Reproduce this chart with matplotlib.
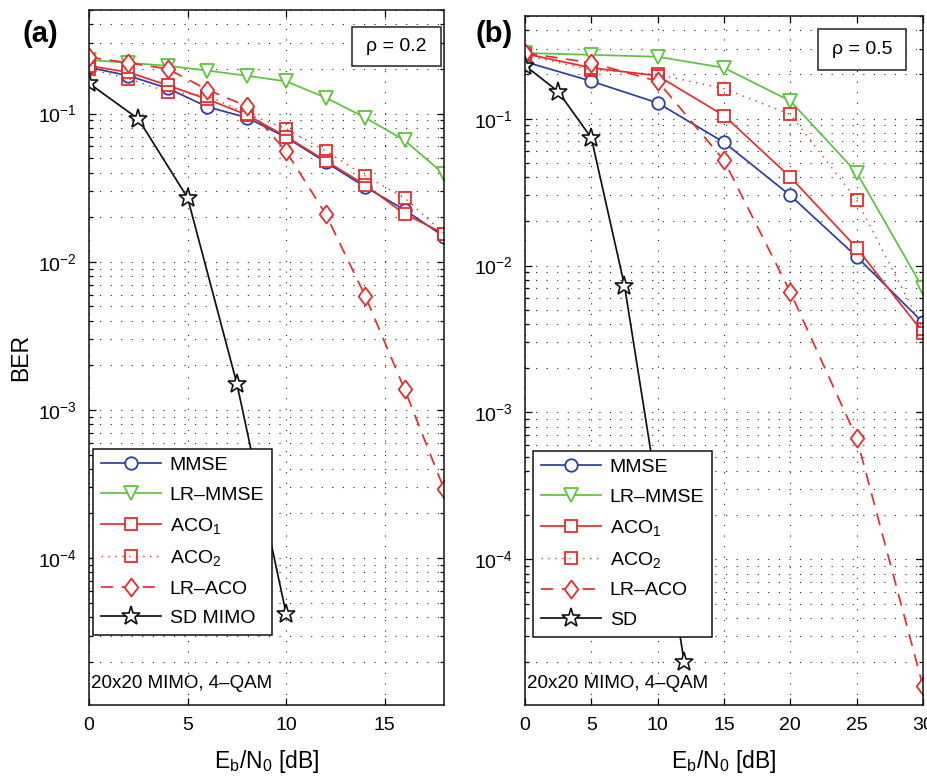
import matplotlib
matplotlib.use("Agg")
import matplotlib.pyplot as plt
from matplotlib.patches import Rectangle
from matplotlib.ticker import LogLocator, NullFormatter, MultipleLocator

plt.rcParams['font.family'] = ['Liberation Sans', 'DejaVu Sans']
plt.rcParams['mathtext.fontset'] = 'custom'
plt.rcParams['mathtext.rm'] = 'Liberation Sans'
plt.rcParams['mathtext.it'] = 'Liberation Sans'
plt.rcParams['mathtext.bf'] = 'Liberation Sans:bold'

# ---------------- data (panel a, rho = 0.2) ----------------
snr_a = [0, 2, 4, 6, 8, 10, 12, 14, 16, 18]
mmse_a = [0.205, 0.18, 0.148, 0.111, 0.094, 0.069, 0.047, 0.032, 0.0224, 0.0148]
lrmmse_a = [0.23, 0.22, 0.21, 0.195, 0.18, 0.165, 0.128, 0.094, 0.066, 0.039]
aco1_a = [0.21, 0.19, 0.155, 0.125, 0.098, 0.070, 0.048, 0.033, 0.021, 0.0155]
aco2_a = [0.20, 0.172, 0.14, 0.132, 0.10, 0.079, 0.056, 0.038, 0.027, 0.0155]
lraco_a = [0.24, 0.22, 0.20, 0.145, 0.112, 0.0555, 0.021, 0.0059, 0.00138, 0.000293]
snr_sd_a = [0, 2.5, 5, 7.5, 10]
sd_a = [0.16, 0.092, 0.027, 0.0015, 4.2e-5]

# ---------------- data (panel b, rho = 0.5) ----------------
snr_b = [0, 5, 10, 15, 20, 25, 30]
mmse_b = [0.244, 0.18, 0.128, 0.069, 0.030, 0.0115, 0.0041]
lrmmse_b = [0.28, 0.272, 0.264, 0.222, 0.132, 0.043, 0.0070]
aco1_b = [0.277, 0.222, 0.196, 0.105, 0.040, 0.0132, 0.0035]
aco2_b = [0.27, 0.215, 0.20, 0.16, 0.107, 0.028, 0.0037]
lraco_b = [0.28, 0.24, 0.18, 0.052, 0.0066, 0.00067, 1.37e-5]
snr_sd_b = [0, 2.5, 5, 7.5, 12]
sd_b = [0.23, 0.153, 0.074, 0.0073, 2e-5]

labels_common = ['MMSE', 'LR\u2013MMSE', 'ACO$_1$', 'ACO$_2$', 'LR\u2013ACO']

BLUE = '#2b3f9e'
GREEN = '#5cc43c'
RED = '#e52d2d'
BLACK = '#111111'

diamond = [(0, 1), (0.75, 0), (0, -1), (-0.75, 0), (0, 1)]

W, H = 928, 783
fig = plt.figure(figsize=(W / 100, H / 100), dpi=100)


def px_axes(l, t, r, b):
    return fig.add_axes([l / W, 1 - b / H, (r - l) / W, (b - t) / H])


def draw(ax, x, mmse, lrmmse, aco1, aco2, lraco, xsd, sd, sdlabel, xmax, xstep,
         rho, rhobox, rhotext):
    lw = 1.25
    ax.plot(x, mmse, color=BLUE, lw=lw, marker='o', ms=9, mfc='white', mec=BLUE,
            mew=1.3, label=labels_common[0])
    ax.plot(x, lrmmse, color=GREEN, lw=lw, marker='v', ms=10, mfc='white', mec=GREEN,
            mew=1.3, label=labels_common[1])
    ax.plot(x, aco1, color=RED, lw=lw, marker='s', ms=8, mfc='white', mec=RED,
            mew=1.3, label=labels_common[2])
    ax.plot(x, aco2, color=RED, lw=1.0, ls=(0, (1, 4)), marker='s', ms=8, mfc='none',
            mec=RED, mew=1.3, label=labels_common[3])
    ax.plot(x, lraco, color=RED, lw=lw, ls=(0, (7, 5)), marker=diamond, ms=13,
            mfc='white', mec=RED, mew=1.3, label=labels_common[4])
    ax.plot(xsd, sd, color=BLACK, lw=lw, marker='*', ms=14, mfc='white', mec=BLACK,
            mew=1.2, label=sdlabel)

    ax.set_yscale('log')
    ax.set_ylim(1.02e-5, 0.5)
    ax.set_xlim(0, xmax)
    ax.xaxis.set_major_locator(MultipleLocator(xstep))
    ax.yaxis.set_major_locator(LogLocator(base=10, numticks=10))
    ax.yaxis.set_minor_locator(LogLocator(base=10, subs=range(2, 10), numticks=20))
    ax.yaxis.set_minor_formatter(NullFormatter())

    gkw = dict(color='#222222', lw=0.8, ls=(0, (1, 8.5)))
    ax.grid(True, which='major', axis='both', **gkw)
    ax.grid(True, which='minor', axis='y', **gkw)
    ax.set_axisbelow(True)

    ax.tick_params(which='both', direction='in', top=True, right=True,
                   labelsize=14, width=0.9)
    ax.tick_params(which='major', length=5, pad=9)
    ax.tick_params(which='minor', length=3)
    for s in ax.spines.values():
        s.set_linewidth(1.1)
        s.set_color('#111111')

    ax.set_xlabel('E$_{\\mathrm{b}}$/N$_{0}$ [dB]', fontsize=16.5, labelpad=10)

    ax.text(0.005, 0.0315, '20x20 MIMO, 4\u2013QAM', transform=ax.transAxes,
            ha='left', va='center', fontsize=13.5, zorder=6)

    x0, y0, x1, y1 = rhobox
    ax.add_patch(Rectangle((x0, y0), x1 - x0, y1 - y0, transform=ax.transAxes,
                           facecolor='white', edgecolor='#222222', lw=1.1, zorder=6))
    ax.text(rhotext[0], rhotext[1], rho, transform=ax.transAxes, ha='center',
            va='center', fontsize=14, zorder=7)


legkw = dict(loc='lower left', fontsize=14, handlelength=3.1, handletextpad=0.45,
             labelspacing=0.62, borderpad=0.4, fancybox=False, framealpha=1,
             edgecolor='#111111', borderaxespad=0)

ax_a = px_axes(89, 10, 444, 705)
draw(ax_a, snr_a, mmse_a, lrmmse_a, aco1_a, aco2_a, lraco_a, snr_sd_a, sd_a,
     'SD MIMO', 18, 5, '\u03c1 = 0.2', (0.741, 0.919, 0.9915, 0.9755), (0.865, 0.947))
leg_a = ax_a.legend(bbox_to_anchor=(0.011, 0.1007), **legkw)
leg_a.get_frame().set_linewidth(1.1)
leg_a.set_zorder(8)

ax_b = px_axes(525, 16, 923, 705)
draw(ax_b, snr_b, mmse_b, lrmmse_b, aco1_b, aco2_b, lraco_b, snr_sd_b, sd_b,
     'SD', 30, 5, '\u03c1 = 0.5', (0.736, 0.9216, 0.957, 0.981), (0.847, 0.951))
leg_b = ax_b.legend(bbox_to_anchor=(0.020, 0.099), **legkw)
leg_b.get_frame().set_linewidth(1.1)
leg_b.set_zorder(8)

ax_a.set_ylabel('BER', fontsize=16.5, labelpad=4)

fig.text(40 / W, 1 - 34 / H, '(a)', fontsize=21, fontweight='bold', ha='center',
         va='center')
fig.text(494 / W, 1 - 34 / H, '(b)', fontsize=21, fontweight='bold', ha='center',
         va='center')

fig.savefig('out.png', dpi=100)
